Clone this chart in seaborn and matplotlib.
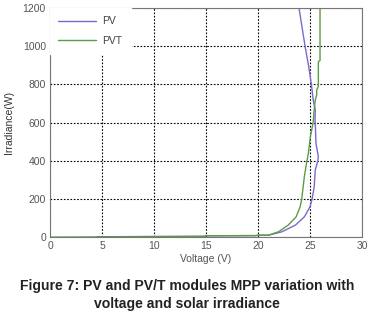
import pandas as pd
import seaborn as sns
import matplotlib.pyplot as plt

# values (voltage in V, irradiance in W)
pv_voltage = [4.5, 10, 14.8, 15, 19.8, 20, 21.0, 22.3, 23.6, 24.45, 25.0, 25.2, 25.4,
              25.5, 25.75, 25.8, 25.57, 25.5, 25.48, 25.5, 25.3, 25.13, 24.85, 24.52, 23.94]
pv_irradiance = [2, 3, 4, 7, 8, 10, 10, 28, 63, 106, 159, 200, 264,
                 351, 400, 421, 491, 600, 613, 666, 720, 800, 900, 1000, 1200]

pvt_voltage = [0, 4.5, 10, 14.8, 15, 19.8, 20, 21.0, 21.97, 22.9, 23.66, 24.05, 24.2,
               24.45, 24.7, 24.84, 25.03, 25.3, 25.4, 25.5, 25.64, 25.64, 25.8, 25.8,
               25.96, 25.96]
pvt_irradiance = [0, 1, 3, 4, 7, 8, 10, 10, 28, 63, 106, 159, 200,
                  316, 400, 438, 526, 600, 666, 718, 745, 770, 790, 919,
                  925, 1200]

df = pd.concat([
    pd.DataFrame({"Voltage": pv_voltage, "Irradiance": pv_irradiance, "Module": "PV"}),
    pd.DataFrame({"Voltage": pvt_voltage, "Irradiance": pvt_irradiance, "Module": "PVT"}),
])

sns.set_style("white")
plt.rcParams["font.family"] = ["Liberation Sans", "DejaVu Sans"]

fig = plt.figure(figsize=(3.74, 3.20), dpi=100)
ax = fig.add_axes([0.134, 0.259, 0.834, 0.716])

sns.lineplot(data=df, x="Voltage", y="Irradiance", hue="Module", sort=False,
             estimator=None, palette={"PV": "#7f68cc", "PVT": "#5c9c44"},
             linewidth=1.0, ax=ax)

ax.set_xlim(0, 30)
ax.set_ylim(0, 1200)
ax.set_xticks([0, 5, 10, 15, 20, 25, 30])
ax.set_yticks([0, 200, 400, 600, 800, 1000, 1200])
ax.grid(True, color="black", linestyle=(0, (1.5, 1.5)), linewidth=0.8)
ax.tick_params(labelsize=7.5, colors="#555555", length=0, pad=3)
for s in ax.spines.values():
    s.set_color("#777777")
    s.set_linewidth(0.8)

ax.set_xlabel("Voltage (V)", fontsize=7.5, color="#555555", labelpad=2)
ax.set_ylabel("Irradiance(W)", fontsize=7.5, color="#333333", labelpad=6)

leg = ax.legend(loc="upper left", fontsize=7.5, frameon=True, framealpha=1,
                edgecolor="white", fancybox=False, borderaxespad=0,
                handlelength=3.6, borderpad=0.8, labelspacing=0.9,
                handletextpad=0.6)
for t in leg.get_texts():
    t.set_color("#444444")

fig.text(0.5, 0.078, "Figure 7: PV and PV/T modules MPP variation with\nvoltage and solar irradiance",
         ha="center", va="center", fontsize=10.1, fontweight="bold", color="#222222",
         linespacing=1.4)

fig.savefig("out.png", dpi=100)
